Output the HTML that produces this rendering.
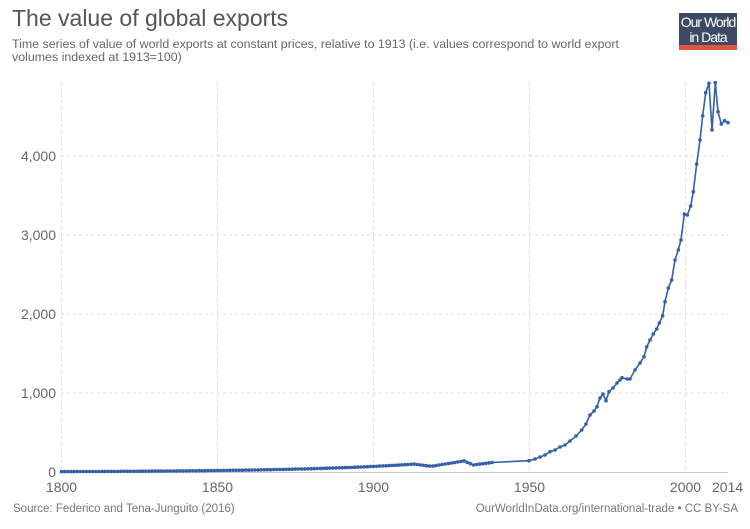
<!DOCTYPE html>
<html><head><meta charset="utf-8"><style>
body{margin:0;background:#fff;width:750px;height:529px;overflow:hidden;font-family:"Liberation Sans",sans-serif;position:relative}
.t{position:absolute;left:12px;top:5px;font-size:23px;color:#555}
.s{position:absolute;left:12px;top:38px;font-size:12.4px;color:#666;line-height:13px;width:620px}
.logo{position:absolute;left:679px;top:13px;width:58px;height:37px;background:#3d4a66;color:#fff;font-size:14px;line-height:15px;text-align:center;padding-top:2px;box-sizing:border-box;border-bottom:5px solid #e1563b;letter-spacing:-1px}
.f{position:absolute;top:503px;font-size:11.5px;color:#777}
</style></head><body>
<div class="t">The value of global exports</div>
<div class="s">Time series of value of world exports at constant prices, relative to 1913 (i.e. values correspond to world export volumes indexed at 1913=100)</div>
<div class="logo">Our World<br>in Data</div>
<svg id="c" width="750" height="529" style="position:absolute;left:0;top:0"></svg>
<div class="f" style="left:13px">Source: Federico and Tena-Junguito (2016)</div>
<div class="f" style="right:12px">OurWorldInData.org/international-trade • CC BY-SA</div>
<script>
var s='';
function X(y){return 61.5+(y-1800)*3.12}
function Y(v){return 472-v*0.079}
[1800,1850,1900,1950,2000].forEach(function(y){s+='<line x1="'+X(y)+'" x2="'+X(y)+'" y1="82" y2="472" stroke="#ddd" stroke-dasharray="3,3"/>';});
[1000,2000,3000,4000].forEach(function(v){s+='<line x1="61" x2="728" y1="'+Y(v)+'" y2="'+Y(v)+'" stroke="#ddd" stroke-dasharray="3,3"/>';
s+='<text x="56" y="'+(Y(v)+5)+'" font-size="14" fill="#666" text-anchor="end">'+v.toLocaleString('en-US')+'</text>';});
s+='<text x="56" y="477" font-size="14" fill="#666" text-anchor="end">0</text>';
s+='<line x1="61" x2="728" y1="472.5" y2="472.5" stroke="#ccc"/>';
[[1800,'middle',0],[1850,'middle',0],[1900,'middle',0],[1950,'middle',0],[2000,'middle',0],[2014,'end',14]].forEach(function(a){s+='<text x="'+(X(a[0])+a[2])+'" y="492" font-size="14" fill="#666" text-anchor="'+a[1]+'">'+a[0]+'</text>';});
var pts=[];
for(var y=1800;y<=1938;y++){var v;
if(y<1913)v=5*Math.pow(100/5,(y-1800)/113);else if(y<1919)v=100-(y-1913)*5;else if(y<=1929)v=75+(y-1919)*6.5;else if(y<=1932)v=140-(y-1929)*17;else v=90+(y-1932)*5;
pts.push([X(y),Y(v)]);}
var raw=[[529,460.7],[535,459],[540,457],[545,455],[550,451.7],[555,450],[560,447],[565,445],[570,441],[576,436],[581.7,430],[586,424],[590,415],[594,411],[597,406.7],[600,398],[603,394],[606,400.7],[609,391.7],[613,388],[617,383],[620,380],[622,377.7],[627,379],[630,379],[635,370],[640,363],[644,356.7],[646.7,347],[650,340],[653.3,334],[656.7,329],[659.3,323],[662.7,315.7],[665,301.7],[668.3,288],[671.7,280],[675,260],[678.3,250],[681,240],[684.3,214],[687.3,215],[690.7,206],[693.3,191.7],[696.7,164],[700,140],[702.7,115.7],[705.7,92.7],[709,83.3],[712,130],[715.3,82.7],[718,111.7],[721.3,124],[724.7,120.7],[728,122.7]];
pts=pts.concat(raw);
s+='<polyline fill="none" stroke="#3360a9" stroke-width="1.6" points="'+pts.map(function(p){return p[0].toFixed(1)+','+p[1].toFixed(1)}).join(' ')+'"/>';
pts.forEach(function(p){s+='<circle cx="'+p[0].toFixed(1)+'" cy="'+p[1].toFixed(1)+'" r="1.8" fill="#3360a9"/>';});
document.getElementById('c').innerHTML=s;
</script>
</body></html>
